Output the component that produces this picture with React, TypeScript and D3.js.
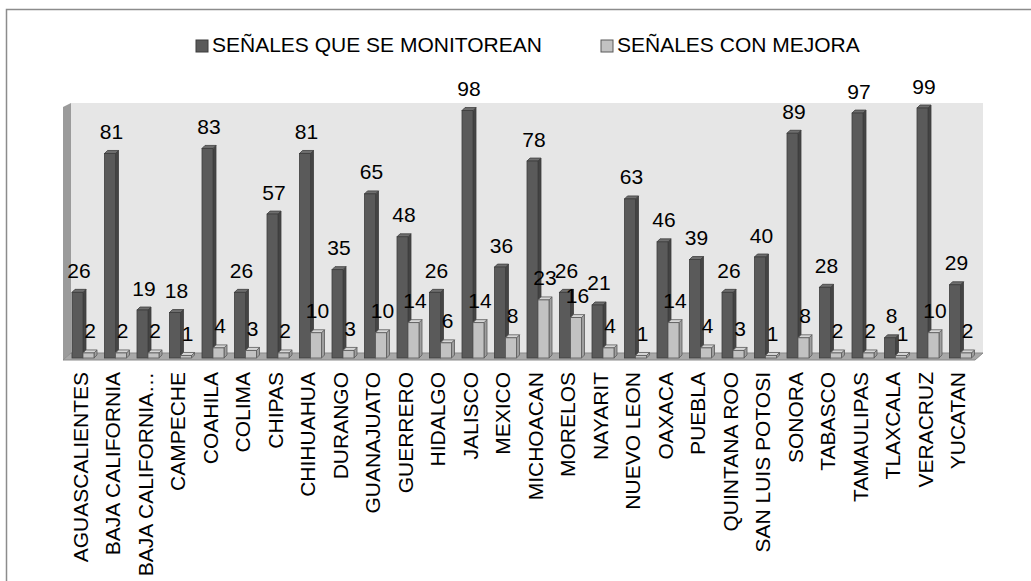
import * as d3 from "d3";
import { useEffect, useRef } from "react";

const states = [
  "AGUASCALIENTES", "BAJA CALIFORNIA", "BAJA CALIFORNIA…", "CAMPECHE", "COAHILA",
  "COLIMA", "CHIPAS", "CHIHUAHUA", "DURANGO", "GUANAJUATO", "GUERRERO", "HIDALGO",
  "JALISCO", "MEXICO", "MICHOACAN", "MORELOS", "NAYARIT", "NUEVO LEON", "OAXACA",
  "PUEBLA", "QUINTANA ROO", "SAN LUIS POTOSI", "SONORA", "TABASCO", "TAMAULIPAS",
  "TLAXCALA", "VERACRUZ", "YUCATAN",
];
const monitoreadas = [26, 81, 19, 18, 83, 26, 57, 81, 35, 65, 48, 26, 98, 36, 78, 26, 21, 63, 46, 39, 26, 40, 89, 28, 97, 8, 99, 29];
const conMejora = [2, 2, 2, 1, 4, 3, 2, 10, 3, 10, 14, 6, 14, 8, 23, 16, 4, 1, 14, 4, 3, 1, 8, 2, 2, 1, 10, 2];
const seriesNames = ["SEÑALES QUE SE MONITOREAN", "SEÑALES CON MEJORA"];

const FONT = "'Liberation Sans', Arial, sans-serif";

const App = () => {
  const ref = useRef<SVGSVGElement>(null);

  useEffect(() => {
    const svg = d3.select(ref.current);
    svg.selectAll("*").remove();

    const left = 71, right = 983, top = 103, floorBack = 353;
    const dx = 8, dy = 7; // depth of the 3D box

    const x0 = d3.scaleBand().domain(states).range([64, 974]);
    const x1 = d3.scaleBand().domain(["m", "c"]).range([8, 30]);
    const y = d3.scaleLinear().domain([0, 100]).range([358, 105.5]);

    // frame (only top and left edges are inside the picture)
    svg.append("rect")
      .attr("x", 6.5).attr("y", 9.5).attr("width", 1040).attr("height", 600)
      .attr("fill", "#fff").attr("stroke", "#8c8c8c").attr("stroke-width", 1.5);

    // walls & floor
    svg.append("rect")
      .attr("x", left).attr("y", top).attr("width", right - left).attr("height", floorBack - top)
      .attr("fill", "#e6e6e6");
    svg.append("polygon")
      .attr("points", `${left - dx},${top + 4} ${left},${top} ${left},${floorBack} ${left - dx},${floorBack + dy}`)
      .attr("fill", "#9b9b9b");
    svg.append("polygon")
      .attr("points", `${left - dx},${floorBack + dy} ${right - dx},${floorBack + dy} ${right},${floorBack} ${left},${floorBack}`)
      .attr("fill", "#a8a8a8").attr("stroke", "#8a8a8a").attr("stroke-width", 1);

    const series = [
      { key: "m", values: monitoreadas, front: "#5a5a5a", side: "#444", topc: "#6e6e6e", stroke: "#3d3d3d" },
      { key: "c", values: conMejora, front: "#c2c2c2", side: "#9e9e9e", topc: "#d6d6d6", stroke: "#5a5a5a" },
    ];
    const w = x1.bandwidth();
    const d = 3;

    series.forEach((s) => {
      const g = svg.append("g");
      const bars = g.selectAll("g").data(states).join("g")
        .attr("transform", (st) => `translate(${x0(st)! + x1(s.key)!},0)`);
      // side
      bars.append("polygon")
        .attr("points", (_, i) => {
          const yt = y(s.values[i]), yb = y(0);
          return `${w},${yt} ${w + d},${yt - d} ${w + d},${yb - d} ${w},${yb}`;
        })
        .attr("fill", s.side).attr("stroke", s.stroke).attr("stroke-width", 0.8);
      // top
      bars.append("polygon")
        .attr("points", (_, i) => {
          const yt = y(s.values[i]);
          return `0,${yt} ${d},${yt - d} ${w + d},${yt - d} ${w},${yt}`;
        })
        .attr("fill", s.topc).attr("stroke", s.stroke).attr("stroke-width", 0.8);
      // front
      bars.append("rect")
        .attr("x", 0).attr("y", (_, i) => y(s.values[i]))
        .attr("width", w).attr("height", (_, i) => y(0) - y(s.values[i]))
        .attr("fill", s.front).attr("stroke", s.stroke).attr("stroke-width", 0.8);
    });

    // value labels
    series.forEach((s) => {
      svg.append("g").selectAll("text").data(states).join("text")
        .attr("x", (st) => x0(st)! + x1(s.key)! + (w + d) / 2)
        .attr("y", (_, i) => y(s.values[i]) - 14.5)
        .attr("text-anchor", "middle")
        .attr("font-family", FONT).attr("font-size", 21).attr("fill", "#000")
        .text((_, i) => s.values[i]);
    });

    // category labels
    svg.append("g").selectAll("text").data(states).join("text")
      .attr("transform", (st) => `translate(${x0(st)! + x0.bandwidth() / 2},372) rotate(-90)`)
      .attr("dy", "0.35em")
      .attr("text-anchor", "end")
      .attr("font-family", FONT).attr("font-size", 21).attr("fill", "#000")
      .text((st) => st);

    // legend
    const legendX = [196, 601];
    const legend = svg.append("g").selectAll("g").data(seriesNames).join("g")
      .attr("transform", (_, i) => `translate(${legendX[i]},40)`);
    legend.append("rect")
      .attr("width", 12).attr("height", 12)
      .attr("fill", (_, i) => series[i].front).attr("stroke", (_, i) => series[i].stroke);
    legend.append("text")
      .attr("x", 16).attr("y", 12)
      .attr("font-family", FONT).attr("font-size", 21).attr("fill", "#000")
      .text((t) => t);
  }, []);

  return (
    <svg
      ref={ref}
      width={1031}
      height={581}
      style={{ position: "absolute", left: 0, top: 0, background: "#fff" }}
    />
  );
};

export default App;
